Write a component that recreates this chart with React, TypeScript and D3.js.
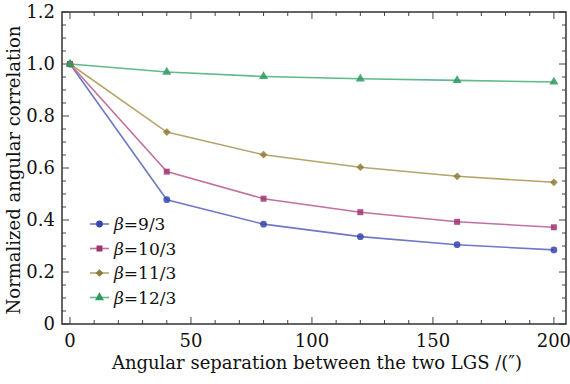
import React, { useEffect, useRef } from "react";
import * as d3 from "d3";

const separations = [0, 40, 80, 120, 160, 200];
const beta9 = [1.0, 0.478, 0.384, 0.336, 0.305, 0.285];
const beta10 = [1.0, 0.586, 0.482, 0.43, 0.393, 0.372];
const beta11 = [1.0, 0.738, 0.651, 0.603, 0.568, 0.545];
const beta12 = [1.0, 0.969, 0.952, 0.943, 0.937, 0.931];
const seriesLabels = ["9/3", "10/3", "11/3", "12/3"];
const xTicks = [0, 50, 100, 150, 200];
const yTicks = [0, 0.2, 0.4, 0.6, 0.8, 1.0, 1.2];

const W = 570, H = 384;
const FONT = "'DejaVu Serif', 'Liberation Serif', serif";

const series = [
  { values: beta9, label: seriesLabels[0], line: "#6e78c6", mark: "#3646b0", shape: d3.symbolCircle, rot: 0 },
  { values: beta10, label: seriesLabels[1], line: "#c171a1", mark: "#a0346f", shape: d3.symbolSquare, rot: 0 },
  { values: beta11, label: seriesLabels[2], line: "#b7a46a", mark: "#8f7c36", shape: d3.symbolSquare, rot: 45 },
  { values: beta12, label: seriesLabels[3], line: "#5fbb8b", mark: "#2e9a5f", shape: d3.symbolTriangle, rot: 0 },
];

const drawChart = (svgEl: SVGSVGElement | null) => {
  if (!svgEl) return;
  const svg = d3.select(svgEl);
  svg.selectAll("*").remove();

  const left = 62, right = 566, top = 12, bottom = 324;
  const x = d3.scaleLinear().domain([-3.3, 205]).range([left, right]);
  const y = d3.scaleLinear().domain([0, 1.2]).range([bottom, top]);

  svg.append("rect").attr("width", W).attr("height", H).attr("fill", "#ffffff");

  // frame ticks (inward, all four sides)
  const tickG = svg.append("g").attr("stroke", "#444").attr("stroke-width", 1);
  d3.range(0, 201, 10).forEach((v) => {
    const major = v % 50 === 0;
    const len = major ? 7 : 4;
    tickG.append("line").attr("x1", x(v)).attr("x2", x(v)).attr("y1", bottom).attr("y2", bottom - len);
    tickG.append("line").attr("x1", x(v)).attr("x2", x(v)).attr("y1", top).attr("y2", top + len);
  });
  d3.range(0, 25).forEach((i) => {
    const v = i * 0.05;
    const major = i % 4 === 0;
    const len = major ? 7 : 4;
    tickG.append("line").attr("x1", left).attr("x2", left + len).attr("y1", y(v)).attr("y2", y(v));
    tickG.append("line").attr("x1", right).attr("x2", right - len).attr("y1", y(v)).attr("y2", y(v));
  });

  svg.append("rect")
    .attr("x", left).attr("y", top)
    .attr("width", right - left).attr("height", bottom - top)
    .attr("fill", "none").attr("stroke", "#333").attr("stroke-width", 1.5);

  // tick labels
  svg.append("g").selectAll("text").data(xTicks).join("text")
    .attr("x", (d) => x(d)).attr("y", 347)
    .attr("text-anchor", "middle")
    .style("font-family", FONT).style("font-size", "18px").attr("fill", "#111")
    .text((d) => d);
  svg.append("g").selectAll("text").data(yTicks).join("text")
    .attr("x", 55).attr("y", (d) => y(d)).attr("dy", "0.36em")
    .attr("text-anchor", "end")
    .style("font-family", FONT).style("font-size", "18px").attr("fill", "#111")
    .text((d) => (d === 0 ? "0" : d3.format(".1f")(d)));

  // axis titles
  svg.append("text")
    .attr("x", 317).attr("y", 369)
    .attr("text-anchor", "middle")
    .style("font-family", FONT).style("font-size", "18px").attr("fill", "#111")
    .text("Angular separation between the two LGS /(\u2033)");
  svg.append("text")
    .attr("transform", `translate(20,${(top + bottom) / 2 + 2}) rotate(-90)`)
    .attr("text-anchor", "middle")
    .style("font-family", FONT).style("font-size", "18px").attr("fill", "#111")
    .text("Normalized angular correlation");

  const line = d3.line<number>().x((_, i) => x(separations[i])).y((d) => y(d));

  series.forEach((s) => {
    svg.append("path").datum(s.values)
      .attr("d", line).attr("fill", "none")
      .attr("stroke", s.line).attr("stroke-width", 1.6);
  });
  series.forEach((s) => {
    const sym = d3.symbol().type(s.shape).size(s.rot ? 30 : 36);
    svg.append("g").selectAll("path").data(s.values).join("path")
      .attr("transform", (d, i) => `translate(${x(separations[i])},${y(d)}) rotate(${s.rot})`)
      .attr("d", sym).attr("fill", s.mark).attr("opacity", 0.85);
  });

  // legend
  const lg = svg.append("g");
  series.forEach((s, i) => {
    const ly = 224 + i * 24.5;
    lg.append("line").attr("x1", 90).attr("x2", 109).attr("y1", ly).attr("y2", ly)
      .attr("stroke", s.line).attr("stroke-width", 1.6);
    lg.append("path").attr("transform", `translate(99.5,${ly}) rotate(${s.rot})`)
      .attr("d", d3.symbol().type(s.shape).size(s.rot ? 30 : 36)).attr("fill", s.mark);
    const t = lg.append("text").attr("x", 114).attr("y", ly).attr("dy", "0.36em")
      .style("font-family", FONT).style("font-size", "17px").attr("fill", "#111");
    t.append("tspan").style("font-style", "italic").text("\u03b2");
    t.append("tspan").text("=" + s.label);
  });
};

export default function App() {
  const ref = useRef<SVGSVGElement>(null);
  useEffect(() => {
    drawChart(ref.current);
  }, []);
  return (
    <svg
      ref={ref}
      width={W}
      height={H}
      style={{ display: "block", position: "absolute", left: 0, top: 0 }}
    />
  );
}
